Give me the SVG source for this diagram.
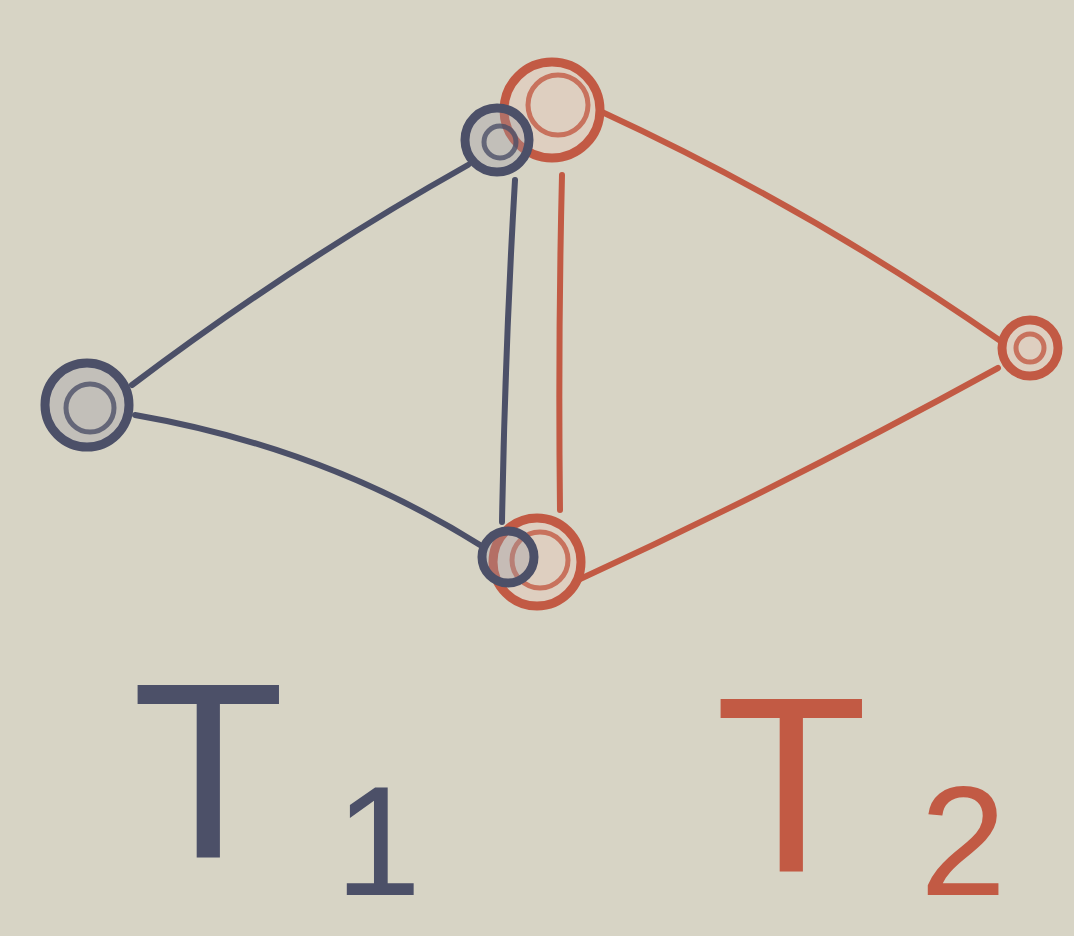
<svg xmlns="http://www.w3.org/2000/svg" width="1074" height="936" viewBox="0 0 1074 936">
<style>
.b{stroke:#4c5068;fill:none;stroke-linecap:round}
.r{stroke:#c25a44;fill:none;stroke-linecap:round}
.e{stroke-width:6}
.nb{fill:#9a98a4;fill-opacity:0.35;stroke:#4c5068;stroke-width:9}
.nr{fill:#e8c8b8;fill-opacity:0.4;stroke:#c25a44;stroke-width:9}
.in{fill:none;stroke-width:5;opacity:0.8}
.lb{font-family:"Liberation Sans",Arial,sans-serif;fill:#4c5068}
.lr{font-family:"Liberation Sans",Arial,sans-serif;fill:#c25a44}
</style>
<rect width="1074" height="936" fill="#d7d4c5"/>
<g id="edges">
<path class="b e" d="M468,165 Q295,262 132,385"/>
<path class="b e" d="M135,415 Q325,448 480,545"/>
<path class="b e" d="M515,180 Q505,350 502,522"/>
<path class="r e" d="M562,175 Q558,340 560,510"/>
<path class="r e" d="M602,112 Q810,208 1002,342"/>
<path class="r e" d="M998,368 Q785,485 578,580"/>
</g>
<g id="node-top-red">
<circle class="nr" cx="552" cy="110" r="48"/>
<circle class="in r" cx="558" cy="105" r="30"/>
</g>
<g id="node-top-blue">
<circle class="nb" cx="497" cy="140" r="32"/>
<circle class="in b" cx="500" cy="142" r="16"/>
</g>
<g id="node-left">
<circle class="nb" cx="87" cy="405" r="42"/>
<circle class="in b" cx="90" cy="408" r="24"/>
</g>
<g id="node-bottom-red">
<circle class="nr" cx="537" cy="562" r="44"/>
<circle class="in r" cx="540" cy="560" r="28"/>
</g>
<g id="node-bottom-blue">
<circle class="nb" cx="508" cy="557" r="26"/>
</g>
<g id="node-right">
<circle class="nr" cx="1030" cy="348" r="28"/>
<circle class="in r" cx="1030" cy="348" r="14"/>
</g>
<g id="label-t1">
<text class="lb" x="132" y="858" font-size="250">T</text>
<text class="lb" x="335" y="895" font-size="155">1</text>
</g>
<g id="label-t2">
<text class="lr" x="715" y="872" font-size="250">T</text>
<text class="lr" x="920" y="895" font-size="155">2</text>
</g>
</svg>
